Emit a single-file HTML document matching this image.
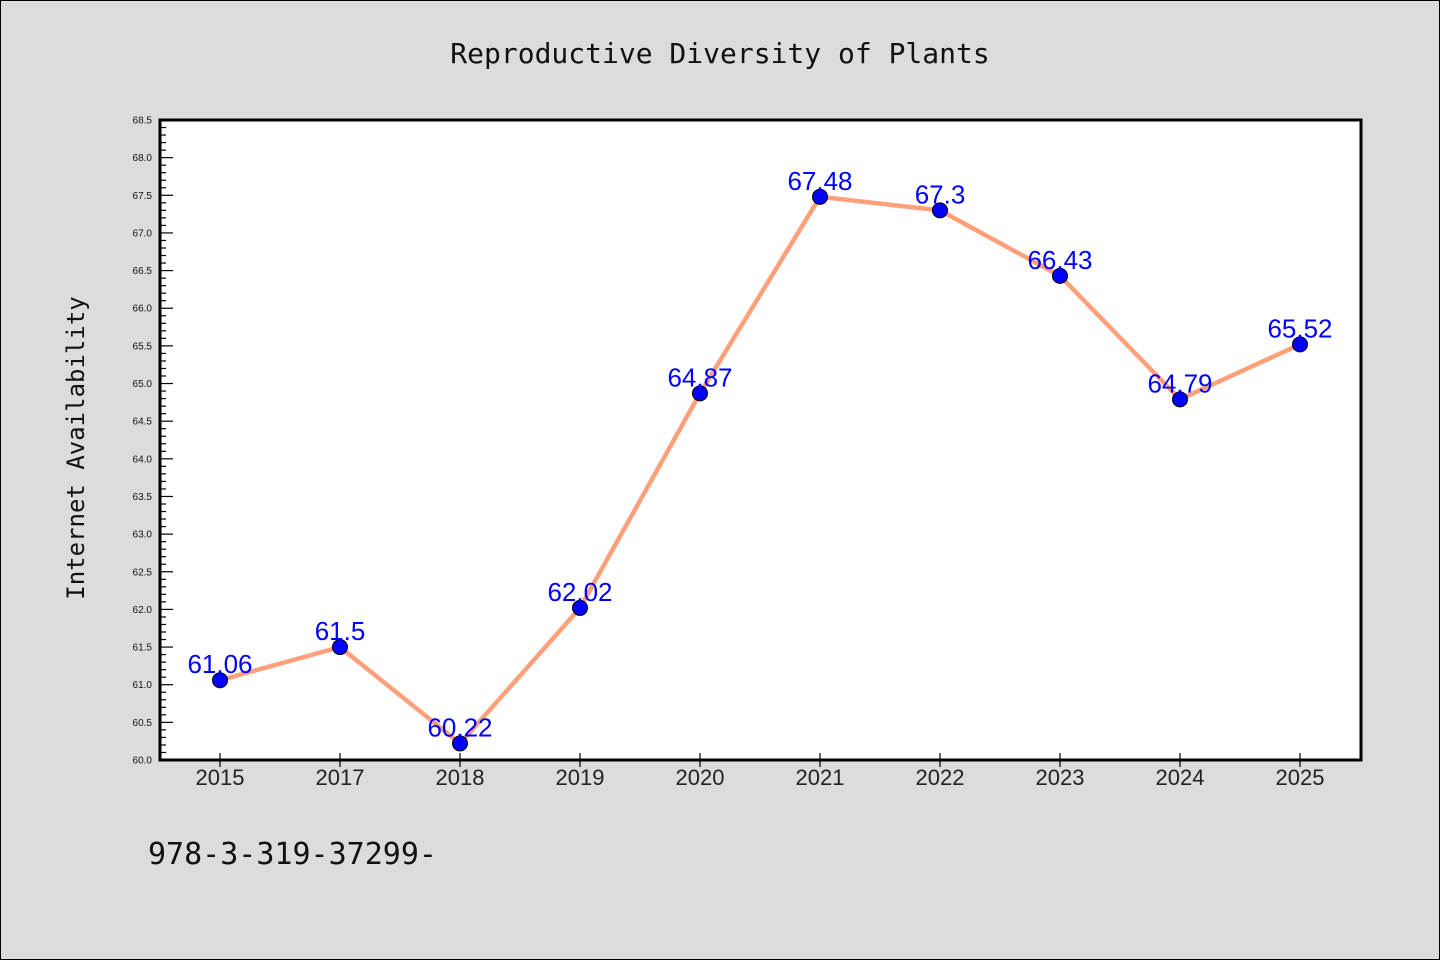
<!DOCTYPE html>
<html><head><meta charset="utf-8"><style>
body{margin:0;background:#dcdcdc;}
svg{display:block;font-family:"Liberation Sans","DejaVu Sans",sans-serif;}
</style></head><body>
<svg id="chart" width="1440" height="960">
<rect x="0.5" y="0.5" width="1439" height="959" fill="#dcdcdc" stroke="#000"/>
<text x="720" y="63" text-anchor="middle" font-size="28" font-family="DejaVu Sans Mono, monospace" fill="#111">Reproductive Diversity of Plants</text>
<text transform="translate(84,448) rotate(-90)" text-anchor="middle" font-size="24" font-family="DejaVu Sans Mono, monospace" fill="#111">Internet Availability</text>
<text x="148" y="864" font-size="30" font-family="DejaVu Sans Mono, monospace" fill="#111">978-3-319-37299-</text>
<rect x="160" y="120" width="1201" height="640" fill="#fff"/>
<g id="ticks"></g>
<g id="marks"></g>
<rect x="160" y="120" width="1201" height="640" fill="none" stroke="#000" stroke-width="3"/>
</svg>
<script>
const categories=["2015","2017","2018","2019","2020","2021","2022","2023","2024","2025"];
const values=[61.06,61.5,60.22,62.02,64.87,67.48,67.3,66.43,64.79,65.52];
const valueLabels=["61.06","61.5","60.22","62.02","64.87","67.48","67.3","66.43","64.79","65.52"];
const yMin=60.0,yMax=68.5;
const NS="http://www.w3.org/2000/svg";
const x=i=>220+i*120;
const y=v=>760-(v-yMin)/(yMax-yMin)*640;
function mk(t,a,p){const e=document.createElementNS(NS,t);for(const k in a)e.setAttribute(k,a[k]);p.appendChild(e);return e;}
const tg=document.getElementById('ticks'),mg=document.getElementById('marks');
for(let k=0;k<=85;k++){const v=yMin+k*0.1;const major=k%5===0;
 const l=mk('line',{x1:160,x2:160+(major?13:6),y1:y(v),y2:y(v),stroke:'#000','stroke-width':1.2},tg);
 
 
 if(major){const t=mk('text',{x:152,y:y(v)+3.5,'text-anchor':'end','font-size':10,fill:'#111'},tg);t.textContent=v.toFixed(1);
 
 }}
categories.forEach((c,i)=>{const l=mk('line',{x1:x(i),x2:x(i),y1:753,y2:767,stroke:'#000','stroke-width':1.2},tg);
 
 
 const t=mk('text',{x:x(i),y:785,'text-anchor':'middle','font-size':22,fill:'#222'},tg);t.textContent=c;
 
 });
const pl=mk('polyline',{points:values.map((v,i)=>x(i)+','+y(v)).join(' '),fill:'none',stroke:'#ffa07a','stroke-width':4.5},mg);


values.forEach((v,i)=>{const c=mk('circle',{cx:x(i),cy:y(v),r:7.5,fill:'#0000ff',stroke:'#000','stroke-width':1},mg);
 
 
 const t=mk('text',{x:x(i),y:y(v)-7,'text-anchor':'middle','font-size':26,fill:'#0000ff'},mg);t.textContent=valueLabels[i];
 
 });
</script>
</body></html>
